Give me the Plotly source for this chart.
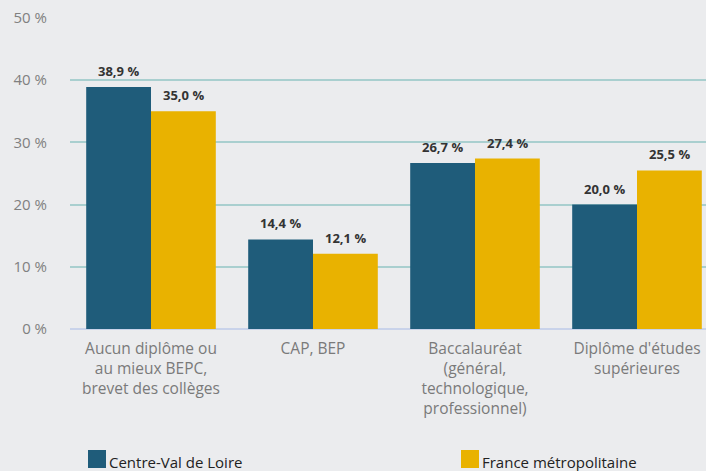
import plotly.graph_objects as go

categories = [
    "Aucun diplôme ou<br>au mieux BEPC,<br>brevet des collèges",
    "CAP, BEP",
    "Baccalauréat<br>(général,<br>technologique,<br>professionnel)",
    "Diplôme d'études<br>supérieures",
]
series_names = ["Centre-Val de Loire", "France métropolitaine"]
centre_val_de_loire = [38.9, 14.4, 26.7, 20.0]
france_metro = [35.0, 12.1, 27.4, 25.5]
y_ticks = [0, 10, 20, 30, 40, 50]
y_tick_labels = [f"{t} %" for t in y_ticks]

colors = ["#1f5c7a", "#e9b200"]
values = [centre_val_de_loire, france_metro]

W, H = 706, 471
ml, mr, mt, mb = 70, 0, 18, 142
pw, ph = W - ml - mr, H - mt - mb

fig = go.Figure()
x_idx = list(range(len(categories)))
for name, vals, col in zip(series_names, values, colors):
    fig.add_trace(go.Bar(
        name=name, x=x_idx, y=vals,
        marker=dict(color=col, line=dict(width=0)),
        showlegend=False,
    ))

def fr(v):
    return f"{v:.1f}".replace(".", ",") + " %"

# value labels above each bar
offsets = [-0.2, 0.2]
for off, vals in zip(offsets, values):
    for i, v in enumerate(vals):
        fig.add_annotation(
            x=i + off, y=v, xref="x", yref="y",
            text=fr(v), showarrow=False, yanchor="bottom", yshift=5,
            font=dict(family="Open Sans", size=13, color="#333333", weight="bold"),
        )

# legend drawn as swatches with labels below the plot
legend_left = [88, 461]
sq = 18
leg_cy = 459
for name, col, lx in zip(series_names, colors, legend_left):
    fig.add_shape(
        type="rect", xref="paper", yref="paper",
        x0=(lx - ml) / pw, x1=(lx + sq - ml) / pw,
        y0=(H - mb - (leg_cy + sq / 2)) / ph, y1=(H - mb - (leg_cy - sq / 2)) / ph,
        fillcolor=col, line=dict(width=0),
    )
    fig.add_annotation(
        xref="paper", yref="paper",
        x=(lx + sq + 1 - ml) / pw, y=(H - mb - (leg_cy + 3)) / ph,
        text=name, showarrow=False, xanchor="left", yanchor="middle",
        font=dict(family="Open Sans", size=15, color="#222222"),
    )

fig.update_layout(
    width=W, height=H,
    margin=dict(l=ml, r=mr, t=mt, b=mb, pad=0),
    paper_bgcolor="#ebecee", plot_bgcolor="#ebecee",
    barmode="group", bargap=0.2, bargroupgap=0,
    font=dict(family="Open Sans", size=15, color="#7a7a7a"),
    showlegend=False,
)
fig.update_xaxes(
    tickmode="array", tickvals=x_idx, ticktext=categories,
    range=[-0.5, -0.5 + pw / 162.0],
    showgrid=False, zeroline=False, showline=False, ticks="",
    tickfont=dict(family="Open Sans", size=15.5, color="#7a7a7a"),
    ticklabelstandoff=8,
)
fig.update_yaxes(
    range=[0, 50], tickmode="array", tickvals=y_ticks, ticktext=y_tick_labels,
    showgrid=True, gridcolor="#a9cfcf", gridwidth=2,
    zeroline=True, zerolinecolor="#c9d3ea", zerolinewidth=2,
    showline=False, ticks="",
    tickfont=dict(family="Open Sans", size=15, color="#808080"),
    ticklabelstandoff=22,
)

fig.write_html("out.html")
